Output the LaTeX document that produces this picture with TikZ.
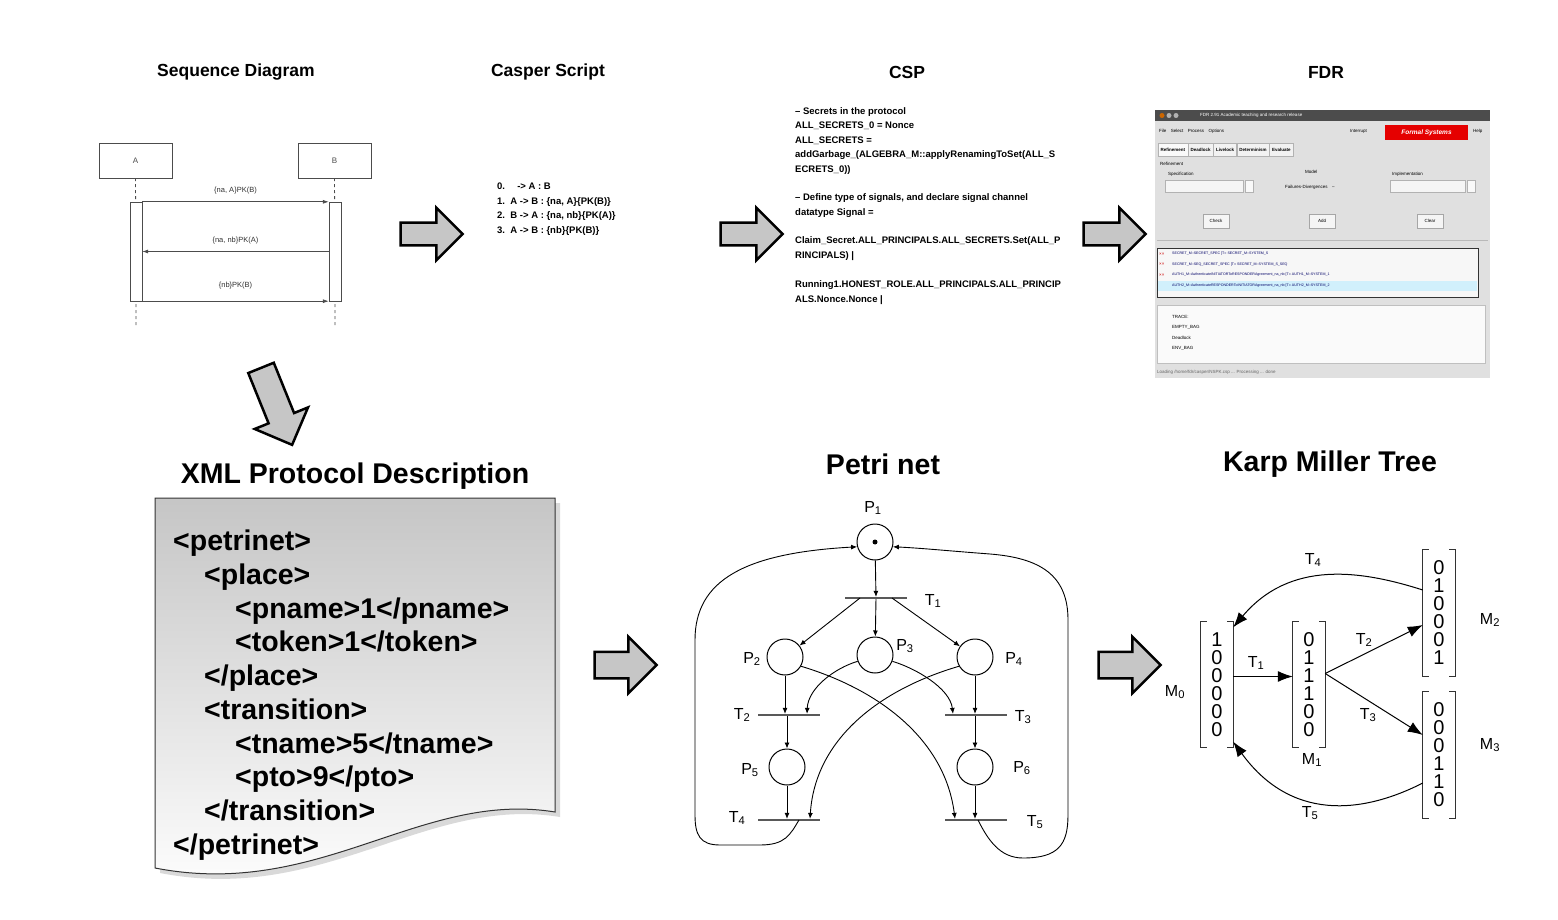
\documentclass[tikz,border=0pt]{standalone}
\usepackage{fontspec}
\setmainfont{Liberation Sans}
\usetikzlibrary{arrows.meta,shapes.arrows}

\newcommand{\vbrack}[1]{%
  \draw[vecline] ([xshift=6pt]#1.north west) -- (#1.north west) -- (#1.south west) -- ([xshift=6pt]#1.south west);
  \draw[vecline] ([xshift=-6pt]#1.north east) -- (#1.north east) -- (#1.south east) -- ([xshift=-6pt]#1.south east);}

\begin{document}
\begin{tikzpicture}[x=1pt, y=-1pt,
  toptitle/.style={font=\fontsize{17.5}{20}\selectfont\bfseries},
  bigtitle/.style={font=\fontsize{28.5}{30}\selectfont\bfseries},
  blockarrow/.style={single arrow, draw, line width=2.5pt, fill=gray!45, inner xsep=0pt, inner ysep=10pt, minimum height=62pt, single arrow head extend=15pt},
  seqbox/.style={draw, black!70, minimum width=73pt, minimum height=35pt, font=\fontsize{8}{9}\selectfont},
  act/.style={draw, black!70, fill=white, minimum width=12pt, minimum height=99pt, inner sep=0pt},
  lifeline/.style={dashed, black!70, line width=0.8pt},
  msg/.style={-{Latex[length=6pt,width=4pt]}, black!70, line width=0.8pt},
  msglabel/.style={font=\fontsize{7.5}{9}\selectfont, text=black!80},
  code/.style={font=\fontsize{9.5}{14.5}\selectfont\bfseries, align=left, anchor=north west, inner sep=0pt},
  xmlcode/.style={font=\fontsize{28.5}{33.7}\selectfont\bfseries, align=left, anchor=north west, inner sep=0pt},
  place/.style={circle, draw, line width=1pt, minimum size=36pt, inner sep=0pt},
  trans/.style={fill=black!65, minimum width=62pt, minimum height=1.8pt, inner sep=0pt},
  arc/.style={-{Latex[length=6pt,width=5pt]}, line width=0.9pt},
  lbl/.style={font=\fontsize{16}{16}\selectfont, inner sep=1pt},
  vec/.style={font=\fontsize{20}{18}\selectfont, align=center, minimum width=32pt, minimum height=126pt, inner sep=0pt},
  vecline/.style={line width=1.3pt, black!80},
  kmarrow/.style={-{Latex[length=15pt,width=11pt]}, line width=1pt},
  tiny/.style={font=\fontsize{4.5}{5}\selectfont, inner sep=0pt, anchor=west},
  fdrtab/.style={draw=gray!60, fill=gray!10, font=\fontsize{4.5}{5}\selectfont\bfseries, minimum height=13pt, inner xsep=2.5pt, anchor=west},
  fdrbtn/.style={draw=gray!70, fill=gray!8, font=\fontsize{4.5}{5}\selectfont, minimum width=26pt, minimum height=14pt}]

  \path[use as bounding box, fill=white] (0,0) rectangle (1558,920);

  % titles
  \node[toptitle] (tseq) at (236,72) {Sequence Diagram};
  \node[toptitle] (tcasper) at (548,72) {Casper Script};
  \node[toptitle] (tcsp) at (907,72) {CSP};
  \node[toptitle] (tfdr) at (1326,72) {FDR};
  \node[bigtitle] (txml) at (355,476) {XML Protocol Description};
  \node[bigtitle] (tpn) at (883,464) {Petri net};
  \node[bigtitle] (tkm) at (1330,464) {Karp Miller Tree};

  % sequence diagram
  \node[seqbox] (A) at (135.5,160.5) {A};
  \node[seqbox] (B) at (334.5,160.5) {B};
  \coordinate (Aend) at (136,327);
  \coordinate (Bend) at (335,327);
  \draw[lifeline] (A) -- (Aend);
  \draw[lifeline] (B) -- (Bend);
  \node[act] (actA) at (136,251.5) {};
  \node[act] (actB) at (335,251.5) {};
  \draw[msg] (actA.north east) to node[msglabel, above=4pt] {\{na, A\}PK(B)} (actB.north west);
  \draw[msg] (actB.west) to node[msglabel, above=4pt] {\{na, nb\}PK(A)} (actA.east);
  \draw[msg] (actA.south east) to node[msglabel, above=8pt] {\{nb\}PK(B)} (actB.south west);

  % casper script
  \node[code] (casper) at (497,183) {0.\quad\ -> A : B\\
    1.\ \ A -> B : \{na, A\}\{PK(B)\}\\
    2.\ \ B -> A : \{na, nb\}\{PK(A)\}\\
    3.\ \ A -> B : \{nb\}\{PK(B)\}};

  % csp
  \node[code] (csp) at (795,107) {-- Secrets in the protocol\\
    ALL\_SECRETS\_0 = Nonce\\
    ALL\_SECRETS =\\
    addGarbage\_(ALGEBRA\_M::applyRenamingToSet(ALL\_S\\
    ECRETS\_0))\\[14pt]
    -- Define type of signals, and declare signal channel\\
    datatype Signal =\\[14pt]
    Claim\_Secret.ALL\_PRINCIPALS.ALL\_SECRETS.Set(ALL\_P\\
    RINCIPALS) |\\[15pt]
    Running1.HONEST\_ROLE.ALL\_PRINCIPALS.ALL\_PRINCIP\\
    ALS.Nonce.Nonce |};

  % fdr window
  \fill[gray!24] (1155,110) rectangle (1490,378);
  \fill[black!70] (1155,110) rectangle (1490,121);
  \fill[orange!80!black] (1162,115.5) circle (2.5);
  \fill[gray!60] (1169,115.5) circle (2.5);
  \fill[gray!60] (1176,115.5) circle (2.5);
  \node[tiny, text=white] (fdrname) at (1200,115.5) {FDR 2.91 Academic teaching and research release};
  \node[tiny] (fdrmenu) at (1159,131) {File\quad Select\quad Process\quad Options};
  \node[tiny] (fdrint) at (1350,131) {Interrupt};
  \fill[red!90!black] (1385,125) rectangle (1468,140);
  \node[font=\fontsize{6.5}{7}\selectfont\bfseries\itshape, text=white, inner sep=0pt] (fdrlogo) at (1426.5,132.5) {Formal Systems};
  \node[tiny] (fdrhelp) at (1473,131) {Help};
  \node[fdrtab, fill=gray!4] (tab1) at (1158,150) {Refinement};
  \node[fdrtab] (tab2) at (tab1.east) {Deadlock};
  \node[fdrtab] (tab3) at (tab2.east) {Livelock};
  \node[fdrtab] (tab4) at (tab3.east) {Determinism};
  \node[fdrtab] (tab5) at (tab4.east) {Evaluate};
  \node[tiny] (fdrref) at (1160,164) {Refinement};
  \node[tiny] (fdrspec) at (1168,174) {Specification};
  \node[tiny] (fdrmodel) at (1305,172) {Model};
  \node[tiny] (fdrimpl) at (1392,174) {Implementation};
  \draw[gray!60, fill=gray!8] (1165,180) rectangle (1243,192);
  \draw[gray!60, fill=gray!5] (1245,180) rectangle (1253,192);
  \draw[gray!60, fill=gray!8] (1390,180) rectangle (1465,192);
  \draw[gray!60, fill=gray!5] (1467,180) rectangle (1475,192);
  \node[tiny] (fdrfd) at (1285,187) {Failures-Divergences\quad --};
  \node[fdrbtn] (check) at (1216,221) {Check};
  \node[fdrbtn] (add) at (1322,221) {Add};
  \node[fdrbtn] (clear) at (1430,221) {Clear};
  \draw[gray!55] (1157,240) -- (1488,240);
  \draw[black!80, line width=0.8pt, fill=gray!6] (1157,248) rectangle (1478,297);
  \fill[cyan!18] (1158,281) rectangle (1477,291);
  \node[tiny, text=red!80!black] (x1) at (1159,254) {××};
  \node[tiny, text=red!80!black] (x2) at (1159,264.5) {××};
  \node[tiny, text=red!80!black] (x3) at (1159,275) {××};
  \node[tiny, font=\fontsize{3.6}{4}\selectfont, text=blue!40!black] (r1) at (1172,254) {SECRET\_M::SECRET\_SPEC [T= SECRET\_M::SYSTEM\_S};
  \node[tiny, font=\fontsize{3.6}{4}\selectfont, text=blue!40!black] (r2) at (1172,264.5) {SECRET\_M::SEQ\_SECRET\_SPEC [T= SECRET\_M::SYSTEM\_S\_SEQ};
  \node[tiny, font=\fontsize{3.6}{4}\selectfont, text=blue!40!black] (r3) at (1172,275) {AUTH1\_M::AuthenticateINITIATORToRESPONDERAgreement\_na\_nb [T= AUTH1\_M::SYSTEM\_1};
  \node[tiny, font=\fontsize{3.6}{4}\selectfont, text=blue!40!black] (r4) at (1172,286) {AUTH2\_M::AuthenticateRESPONDERToINITIATORAgreement\_na\_nb [T= AUTH2\_M::SYSTEM\_2};
  \draw[gray!50, fill=gray!4] (1157,305) rectangle (1485,363);
  \node[tiny] (tr1) at (1172,317) {TRACE:};
  \node[tiny] (tr2) at (1172,327.5) {EMPTY\_BAG};
  \node[tiny] (tr3) at (1172,338) {Deadlock};
  \node[tiny] (tr4) at (1172,348.5) {ENV\_BAG};
  \node[tiny, text=gray!80!black] (fdrstatus) at (1157,372) {Loading /home/fdr/casper/NSPK.csp ... Processing ... done};

  % xml description
  \fill[gray!30] (160,503) -- (560,503) -- (560,817) .. controls (425,795) and (325,905) .. (160,873) -- cycle;
  \shade[top color=gray!45, bottom color=white, draw=black!80, line width=1pt] (155,498) -- (555,498) -- (555,812) .. controls (420,790) and (320,900) .. (155,868) -- cycle;
  \node[xmlcode] (xml) at (173,530) {<petrinet>\\
    \hspace*{31pt}<place>\\
    \hspace*{62pt}<pname>1</pname>\\
    \hspace*{62pt}<token>1</token>\\
    \hspace*{31pt}</place>\\
    \hspace*{31pt}<transition>\\
    \hspace*{62pt}<tname>5</tname>\\
    \hspace*{62pt}<pto>9</pto>\\
    \hspace*{31pt}</transition>\\
    </petrinet>};

  % block arrows
  \node[blockarrow] (arr1) at (426,234) {};
  \node[blockarrow] (arr2) at (746,234) {};
  \node[blockarrow] (arr3) at (1109,234) {};
  \node[blockarrow, rotate=-68, minimum height=83pt, inner ysep=12.5pt] (arr4) at (274,400) {};
  \node[blockarrow, inner ysep=12pt] (arr5) at (619,665) {};
  \node[blockarrow, inner ysep=12pt] (arr6) at (1123,665) {};

  % petri net
  \node[place] (p1) at (875,542) {};
  \fill (p1) circle (2.5);
  \node[trans] (t1) at (876,598) {};
  \node[place] (p2) at (785,657) {};
  \node[place] (p3) at (875,655) {};
  \node[place] (p4) at (975,657) {};
  \node[trans] (t2) at (789,715) {};
  \node[trans] (t3) at (976,715) {};
  \node[place] (p5) at (787,767) {};
  \node[place] (p6) at (975,767) {};
  \node[trans] (t4) at (789,820) {};
  \node[trans] (t5) at (976,820) {};

  \node[lbl] (lp1) at (873,508) {P\textsubscript{1}};
  \node[lbl] (lt1) at (933,601) {T\textsubscript{1}};
  \node[lbl] (lp2) at (752,659) {P\textsubscript{2}};
  \node[lbl] (lp3) at (905,646) {P\textsubscript{3}};
  \node[lbl] (lp4) at (1014,659) {P\textsubscript{4}};
  \node[lbl] (lt2) at (742,715) {T\textsubscript{2}};
  \node[lbl] (lt3) at (1023,717) {T\textsubscript{3}};
  \node[lbl] (lp5) at (750,770) {P\textsubscript{5}};
  \node[lbl] (lp6) at (1022,768) {P\textsubscript{6}};
  \node[lbl] (lt4) at (737,818) {T\textsubscript{4}};
  \node[lbl] (lt5) at (1035,822) {T\textsubscript{5}};

  \draw[arc] (p1) -- (t1);
  \draw[arc] ([xshift=-16pt]t1.center) -- (p2);
  \draw[arc] (t1) -- (p3);
  \draw[arc] ([xshift=16pt]t1.center) -- (p4);
  \draw[arc] (p2) -- (p2 |- t2.north);
  \draw[arc] (p5 |- t2.south) -- (p5);
  \draw[arc] (p4) -- (p4 |- t3.north);
  \draw[arc] (p6 |- t3.south) -- (p6);
  \draw[arc] (p5) -- (p5 |- t4.north);
  \draw[arc] (p6) -- (p6 |- t5.north);
  \draw[arc] (p3.200) .. controls (835,668) and (808,688) .. ([xshift=18pt]t2.north);
  \draw[arc] (p3.-20) .. controls (915,668) and (950,688) .. ([xshift=-23pt]t3.north);
  \draw[arc] (p2.-30) .. controls (880,690) and (945,740) .. ([xshift=-21pt]t5.north);
  \draw[arc] (p4.210) .. controls (878,690) and (815,740) .. ([xshift=21pt]t4.north);
  \draw[arc] ([xshift=10pt]t4.center) .. controls (790,835) and (785,845) .. (760,845) -- (720,845)
    .. controls (700,845) and (695,835) .. (695,815) -- (695,640)
    .. controls (695,580) and (745,553) .. (p1.195);
  \draw[arc] ([xshift=2pt]t5.center) .. controls (988,840) and (1000,858) .. (1023,858)
    .. controls (1058,858) and (1068,845) .. (1068,815) -- (1068,620)
    .. controls (1068,575) and (1040,558) .. (990,554)
    .. controls (950,551) and (920,548) .. (p1.-15);

  % karp miller tree
  \node[vec] (m0) at (1217,684.5) {1\\0\\0\\0\\0\\0};
  \node[vec] (m1) at (1309,684.5) {0\\1\\1\\1\\0\\0};
  \node[vec] (m2) at (1439,613) {0\\1\\0\\0\\0\\1};
  \node[vec] (m3) at (1439,755) {0\\0\\0\\1\\1\\0};
  \vbrack{m0}
  \vbrack{m1}
  \vbrack{m2}
  \vbrack{m3}

  \node[lbl] (lm0) at (1175,692) {M\textsubscript{0}};
  \node[lbl] (lm1) at (1312,760) {M\textsubscript{1}};
  \node[lbl] (lm2) at (1490,620) {M\textsubscript{2}};
  \node[lbl] (lm3) at (1490,745) {M\textsubscript{3}};
  \node[lbl] (lkt1) at (1256,663) {T\textsubscript{1}};
  \node[lbl] (lkt2) at (1364,640) {T\textsubscript{2}};
  \node[lbl] (lkt3) at (1368,715) {T\textsubscript{3}};
  \node[lbl] (lkt4) at (1313,560) {T\textsubscript{4}};
  \node[lbl] (lkt5) at (1310,813) {T\textsubscript{5}};

  \draw[kmarrow] ([yshift=8pt]m0.east) -- ([yshift=8pt]m1.west);
  \draw[kmarrow] ([yshift=11pt]m1.east) -- ([yshift=-12pt]m2.west);
  \draw[kmarrow] ([yshift=11pt]m1.east) -- ([yshift=20pt]m3.west);
  \draw[kmarrow] ([yshift=23pt]m2.west) .. controls (1360,570) and (1290,560) .. ([yshift=-6pt]m0.north east);
  \draw[kmarrow] ([yshift=-28pt]m3.west) .. controls (1360,815) and (1290,820) .. ([yshift=6pt]m0.south east);

\end{tikzpicture}
\end{document}
